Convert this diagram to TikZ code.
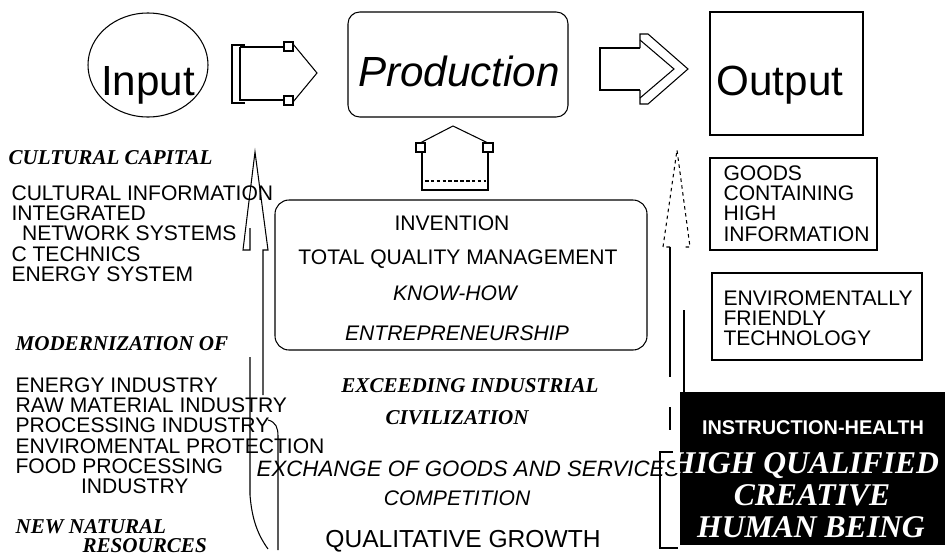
\documentclass[tikz,border=0pt]{standalone}
\usepackage{fontspec}
\setmainfont{Liberation Sans}
\newfontfamily\headfont{Liberation Serif}

\begin{document}
\begin{tikzpicture}[x=0.03cm, y=-0.03cm, line width=0.9pt,
    bigtext/.style ={inner sep=0pt, anchor=base, font=\fontsize{36}{40}\selectfont},
    entry/.style ={inner sep=0pt, anchor=base, font=\fontsize{18}{20}\selectfont},
    listtext/.style ={inner sep=0pt, anchor=north west, align=left, font=\fontsize{18}{17.3}\selectfont},
    heading/.style ={inner sep=0pt, anchor=base, font=\headfont\bfseries\itshape\fontsize{18}{20}\selectfont},
    human/.style ={inner sep=0pt, anchor=base, text=white, font=\headfont\bfseries\itshape\fontsize{27}{30}\selectfont}]
   \useasboundingbox (0,0) rectangle (945,557);

   % top row
   \node[bigtext] (input) at (148,95) {Input};
   \draw (148,65) ellipse [x radius=60, y radius=52];
   \node[bigtext, font=\fontsize{36}{40}\selectfont\itshape] (production) at (459,86) {Production};
   \draw[rounded corners=10pt] (348,12) rectangle (568,117);
   \node[bigtext] (output) at (780,95) {Output};
   \draw (710,12) rectangle (863,135);

   % arrow input -> production
   \draw (245,45) -- (232,45) -- (232,103) -- (245,103);
   \draw (240,47) -- (240,101);
   \draw (240,47) -- (284,47);
   \draw (240,100) -- (284,100);
   \draw (284,42) rectangle (293,51);
   \draw (284,96) rectangle (293,105);
   \draw (293,44) -- (317,73) -- (293,102);

   % arrow production -> output
   \draw (640,48) -- (600,48) -- (600,90) -- (640,90);
   \draw (640,48) -- (640,34) -- (648,34) -- (688,69) -- (648,104) -- (640,104) -- (640,90);
   \draw (640,40) -- (674,69) -- (640,98);

   % arrow up to production
   \draw (416,143) rectangle (425,152);
   \draw (483,143) rectangle (493,152);
   \draw (420,143) -- (453,126) -- (488,143);
   \draw (422,152) -- (422,190) -- (488,190) -- (488,152);
   \draw[densely dashed] (425,181) -- (486,181);

   % knowledge box
   \draw[rounded corners=12pt] (275,200) rectangle (647,350);
   \node[entry] (invention) at (452,230) {INVENTION};
   \node[entry] (quality) at (458,264) {TOTAL QUALITY MANAGEMENT};
   \node[entry, font=\fontsize{18}{20}\selectfont\itshape] (knowhow) at (455,300) {KNOW-HOW};
   \node[entry, font=\fontsize{18}{20}\selectfont\itshape] (entrepreneurship) at (457,340) {ENTREPRENEURSHIP};

   % left column
   \node[heading, anchor=base west] (cultural) at (8,164) {CULTURAL CAPITAL};
   \node[listtext] (culturallist) at (11,185) {CULTURAL INFORMATION\\INTEGRATED\\\hspace{9pt}NETWORK SYSTEMS\\C TECHNICS\\ENERGY SYSTEM};
   \node[heading, anchor=base west] (modernization) at (15,350) {MODERNIZATION OF};
   \node[listtext] (industrylist) at (15,377) {ENERGY INDUSTRY\\RAW MATERIAL INDUSTRY\\PROCESSING INDUSTRY\\ENVIROMENTAL PROTECTION\\FOOD PROCESSING\\\hspace{56pt}INDUSTRY};
   \node[heading, anchor=base west] (natural) at (15,533) {NEW NATURAL};
   \node[heading, anchor=base west] (resources) at (82,552) {RESOURCES};

   % middle lower
   \node[heading] (exceeding) at (470,392) {EXCEEDING INDUSTRIAL};
   \node[heading] (civilization) at (457,424) {CIVILIZATION};
   \node[entry, font=\fontsize{19}{20}\selectfont\itshape] (exchange) at (468,476) {EXCHANGE OF GOODS AND SERVICES};
   \node[entry, font=\fontsize{18}{20}\selectfont\itshape] (competition) at (457,505) {COMPETITION};
   \node[entry, font=\fontsize{21}{22}\selectfont] (growth) at (463,547) {QUALITATIVE GROWTH};

   % left arrow
   \draw (250,228) -- (250,250) -- (243,250) -- (255,152) -- (268,250) -- (263,250) -- (263,395);
   \draw (250,357) -- (250,495) .. controls (252,520) and (258,535) .. (268,549);
   \draw (268,420) .. controls (276,422) and (278,428) .. (278,436) -- (278,550);

   % right arrow
   \draw[dashed] (670,247) -- (663,247) -- (677,150) -- (690,247) -- (684,247);
   \draw (670,247) -- (670,377);
   \draw (684,310) -- (684,392);
   \draw (670,407) -- (670,430);
   \draw (673,452) -- (660,452) -- (660,548) -- (678,548);

   % right column
   \draw (710,158) rectangle (877,250);
   \node[listtext] (goods) at (723,165) {GOODS\\CONTAINING\\HIGH\\INFORMATION};
   \draw (712,273) rectangle (922,360);
   \node[listtext] (friendly) at (723,290) {ENVIROMENTALLY\\FRIENDLY\\TECHNOLOGY};

   % human being
   \fill (680,392) rectangle (945,545);
   \node[entry, text=white, font=\fontsize{17}{20}\selectfont\bfseries] (instruction) at (813,434) {INSTRUCTION-HEALTH};
   \node[human] (qualified) at (805,473) {HIGH QUALIFIED};
   \node[human] (creative) at (812,505) {CREATIVE};
   \node[human] (being) at (811,537) {HUMAN BEING};
 \end{tikzpicture}
\end{document}
